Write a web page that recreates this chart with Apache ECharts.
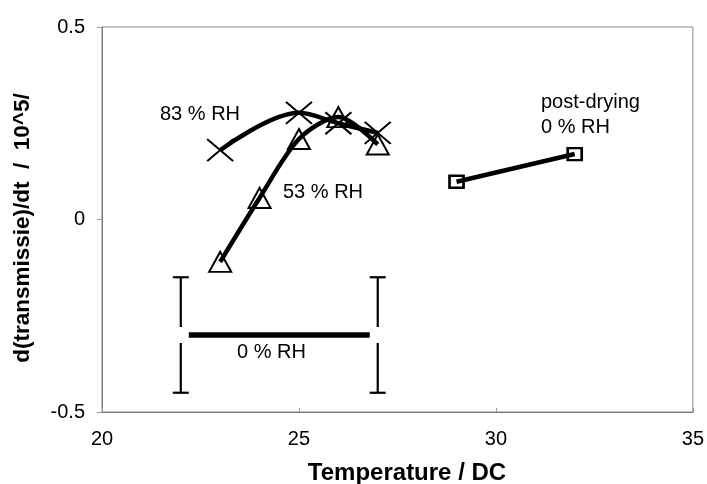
<!DOCTYPE html>
<html>
<head>
<meta charset="utf-8">
<script src="https://cdn.jsdelivr.net/npm/echarts@6/dist/echarts.min.js"></script>
<style>html,body{margin:0;padding:0;background:#fff}#c{width:707px;height:484px}</style>
</head>
<body>
<div id="c"></div>
<script>
// Data
var temps83 = [23, 25, 26, 27];
var vals83 = [0.18, 0.277, 0.25, 0.225];
var temps53 = [23, 24, 25, 26, 27];
var vals53 = [-0.11, 0.056, 0.209, 0.266, 0.195];
var tempsPost = [29, 32];
var valsPost = [0.098, 0.17];
var temps0 = [22, 27];
var vals0 = [-0.3, -0.3];
var err0 = [0.15, 0.15];
var xTicks = [20, 25, 30, 35];
var yTicks = [-0.5, 0, 0.5];

function pairs(xs, ys) { return xs.map(function (x, i) { return [x, ys[i]]; }); }

var chart = echarts.init(document.getElementById('c'));
var FONT = '"Liberation Sans", Arial, sans-serif';
var crossPath = 'path://M0,0L10,10M10,0L0,10';

chart.setOption({
  animation: false,
  backgroundColor: '#fff',
  grid: { left: 102, right: 14, top: 27, bottom: 72, show: true, borderColor: '#888', borderWidth: 1 },
  xAxis: {
    type: 'value', min: xTicks[0], max: xTicks[xTicks.length - 1], interval: 5,
    axisLine: { onZero: false, lineStyle: { color: '#777', width: 1 } },
    axisTick: { show: true, length: 4, inside: true, lineStyle: { color: '#999' } },
    axisLabel: { margin: 17, fontFamily: FONT, fontSize: 20, color: '#000' },
    splitLine: { show: false }
  },
  yAxis: {
    type: 'value', min: yTicks[0], max: yTicks[yTicks.length - 1], interval: 0.5,
    axisLine: { onZero: false, lineStyle: { color: '#777', width: 1 } },
    axisTick: { show: true, length: 5, lineStyle: { color: '#999' } },
    axisLabel: { margin: 17, fontFamily: FONT, fontSize: 20, color: '#000' },
    splitLine: { show: false }
  },
  series: [
    {
      name: 'err0', type: 'custom', z: 2,
      data: temps0.map(function (t, i) { return [t, vals0[i] + err0[i], vals0[i] - err0[i]]; }),
      renderItem: function (params, api) {
        var top = api.coord([api.value(0), api.value(1)]);
        var bot = api.coord([api.value(0), api.value(2)]);
        var hw = 8;
        var st = { stroke: '#000', lineWidth: 2.2 };
        return { type: 'group', children: [
          { type: 'line', shape: { x1: top[0], y1: top[1], x2: bot[0], y2: bot[1] }, style: st },
          { type: 'line', shape: { x1: top[0] - hw, y1: top[1], x2: top[0] + hw, y2: top[1] }, style: st },
          { type: 'line', shape: { x1: bot[0] - hw, y1: bot[1], x2: bot[0] + hw, y2: bot[1] }, style: st }
        ]};
      }
    },
    {
      name: '0 % RH', type: 'line', z: 3, data: pairs(temps0, vals0),
      lineStyle: { color: '#000', width: 5.5 },
      symbol: 'rect', symbolSize: 16, itemStyle: { color: '#fff', borderWidth: 0 }
    },
    {
      name: '53 % RH', type: 'line', z: 4, data: pairs(temps53, vals53), smooth: 0.3,
      lineStyle: { color: '#000', width: 4.5 },
      symbol: 'triangle', symbolSize: [22, 20],
      itemStyle: { color: 'rgba(255,255,255,0)', borderColor: '#000', borderWidth: 2 }
    },
    {
      name: '83 % RH', type: 'line', z: 5, data: pairs(temps83, vals83), smooth: 0.35,
      lineStyle: { color: '#000', width: 4.5 },
      symbol: crossPath, symbolSize: [26, 22],
      itemStyle: { color: 'rgba(255,255,255,0)', borderColor: '#000', borderWidth: 2 }
    },
    {
      name: 'post', type: 'line', z: 5, data: pairs(tempsPost, valsPost),
      lineStyle: { color: '#000', width: 4.5 },
      symbol: 'rect', symbolSize: [14, 12],
      itemStyle: { color: 'rgba(255,255,255,0)', borderColor: '#000', borderWidth: 2.5 }
    }
  ],
  graphic: [
    { type: 'text', left: 160, top: 104, style: { text: '83 % RH', font: '20px ' + FONT, fill: '#000' } },
    { type: 'text', left: 283, top: 182, style: { text: '53 % RH', font: '20px ' + FONT, fill: '#000' } },
    { type: 'text', left: 541, top: 92, style: { text: 'post-drying', font: '20px ' + FONT, fill: '#000' } },
    { type: 'text', left: 541, top: 117, style: { text: '0 % RH', font: '20px ' + FONT, fill: '#000' } },
    { type: 'text', left: 237, top: 342, style: { text: '0 % RH', font: '20px ' + FONT, fill: '#000' } },
    { type: 'text', x: 407, y: 473, style: { text: 'Temperature / DC', font: 'bold 24px ' + FONT, fill: '#000', textAlign: 'center', textVerticalAlign: 'middle' } },
    { type: 'text', x: 23, y: 228, rotation: Math.PI / 2, style: { text: 'd(transmissie)/dt  /  10^5/', font: 'bold 22.5px ' + FONT, fill: '#000', textAlign: 'center', textVerticalAlign: 'middle' } }
  ]
});
</script>
</body>
</html>
